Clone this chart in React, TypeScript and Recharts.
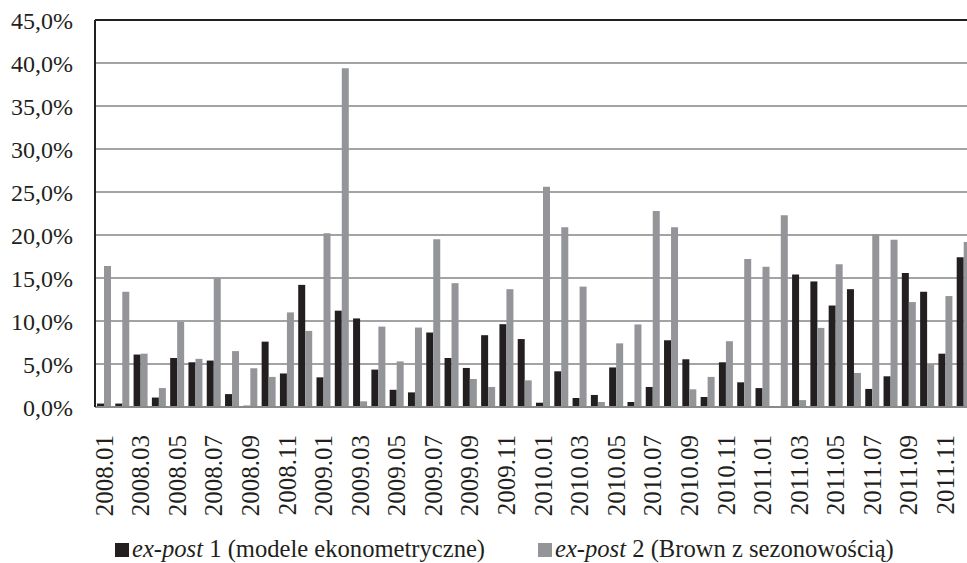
import { BarChart, Bar, XAxis, YAxis, CartesianGrid, ReferenceLine } from 'recharts'

// miesiące 2008.01 – 2011.12
const months = [
  '2008.01', '2008.02', '2008.03', '2008.04', '2008.05', '2008.06', '2008.07', '2008.08', '2008.09', '2008.10', '2008.11', '2008.12',
  '2009.01', '2009.02', '2009.03', '2009.04', '2009.05', '2009.06', '2009.07', '2009.08', '2009.09', '2009.10', '2009.11', '2009.12',
  '2010.01', '2010.02', '2010.03', '2010.04', '2010.05', '2010.06', '2010.07', '2010.08', '2010.09', '2010.10', '2010.11', '2010.12',
  '2011.01', '2011.02', '2011.03', '2011.04', '2011.05', '2011.06', '2011.07', '2011.08', '2011.09', '2011.10', '2011.11', '2011.12',
]

// ex-post 1 (modele ekonometryczne), w %
const expost1 = [
  0.4, 0.4, 6.1, 1.1, 5.7, 5.2, 5.4, 1.5, 0.15, 7.6, 3.9, 14.2,
  3.45, 11.2, 10.3, 4.35, 2.0, 1.7, 8.66, 5.7, 4.54, 8.35, 9.63, 7.9,
  0.5, 4.15, 1.05, 1.4, 4.6, 0.58, 2.33, 7.76, 5.55, 1.16, 5.2, 2.87,
  2.2, 0.05, 15.4, 14.6, 11.8, 13.7, 2.1, 3.57, 15.57, 13.4, 6.2, 17.4,
]

// ex-post 2 (Brown z sezonowością), w %
const expost2 = [
  16.4, 13.4, 6.2, 2.2, 9.9, 5.6, 15.0, 6.5, 4.5, 3.5, 11.0, 8.85,
  20.2, 39.4, 0.66, 9.35, 5.3, 9.24, 19.5, 14.4, 3.26, 2.33, 13.7, 3.1,
  25.6, 20.9, 14.0, 0.58, 7.4, 9.6, 22.8, 20.9, 2.06, 3.5, 7.65, 17.2,
  16.3, 22.3, 0.8, 9.2, 16.6, 3.96, 20.1, 19.45, 12.2, 4.97, 12.9, 19.2,
]

const yTicks = [0, 5, 10, 15, 20, 25, 30, 35, 40, 45]

const data = months.map((m, i) => ({ month: m, e1: expost1[i], e2: expost2[i] }))

const FONT = '"Liberation Serif", "Times New Roman", serif'
const BLACK = '#231f20'
const GRAY = '#939598'

const fmt = (v: number) => v.toFixed(1).replace('.', ',') + '%'

function MonthTick({ x, y, payload }: any) {
  return (
    <text
      x={x}
      y={y + 20}
      transform={`rotate(-90, ${x}, ${y + 20})`}
      textAnchor="end"
      dominantBaseline="central"
      fontFamily={FONT}
      fontSize={25}
      fill="#231f20"
    >
      {payload.value}
    </text>
  )
}

export default function App() {
  return (
    <div style={{ position: 'relative', width: 967, height: 563, overflow: 'hidden', background: '#fff' }}>
      <style>{'body{margin:0}'}</style>
      <BarChart
        width={980}
        height={563}
        data={data}
        margin={{ top: 20, right: 7, left: 0, bottom: 0 }}
        barSize={7}
        barGap={0}
      >
        <CartesianGrid vertical={false} stroke="#a3a3a3" strokeWidth={2} />
        <XAxis
          dataKey="month"
          interval={1}
          height={156}
          tick={<MonthTick />}
          tickLine={false}
          axisLine={{ stroke: '#8a8a8a', strokeWidth: 2 }}
        />
        <YAxis
          width={95}
          domain={[0, 45]}
          ticks={yTicks}
          tickFormatter={fmt}
          tickLine={false}
          tickSize={0}
          tickMargin={22}
          axisLine={{ stroke: '#231f20', strokeWidth: 2 }}
          tick={{ fontFamily: FONT, fontSize: 24, fill: '#231f20' }}
        />
        <ReferenceLine y={45} stroke="#231f20" strokeWidth={2} />
        <Bar dataKey="e1" fill={BLACK} isAnimationActive={false} />
        <Bar dataKey="e2" fill={GRAY} isAnimationActive={false} />
      </BarChart>
      <div
        style={{
          position: 'absolute',
          top: 535,
          left: 0,
          width: 967,
          fontFamily: FONT,
          fontSize: 24.6,
          color: '#231f20',
          lineHeight: '28px',
          whiteSpace: 'nowrap',
        }}
      >
        <span style={{ position: 'absolute', left: 115, top: 8, width: 14, height: 14, background: BLACK }} />
        <span style={{ position: 'absolute', left: 132 }}>
          <i>ex-post</i> 1 (modele ekonometryczne)
        </span>
        <span style={{ position: 'absolute', left: 538, top: 8, width: 14, height: 14, background: GRAY }} />
        <span style={{ position: 'absolute', left: 555 }}>
          <i>ex-post</i> 2 (Brown z sezonowością)
        </span>
      </div>
    </div>
  )
}
